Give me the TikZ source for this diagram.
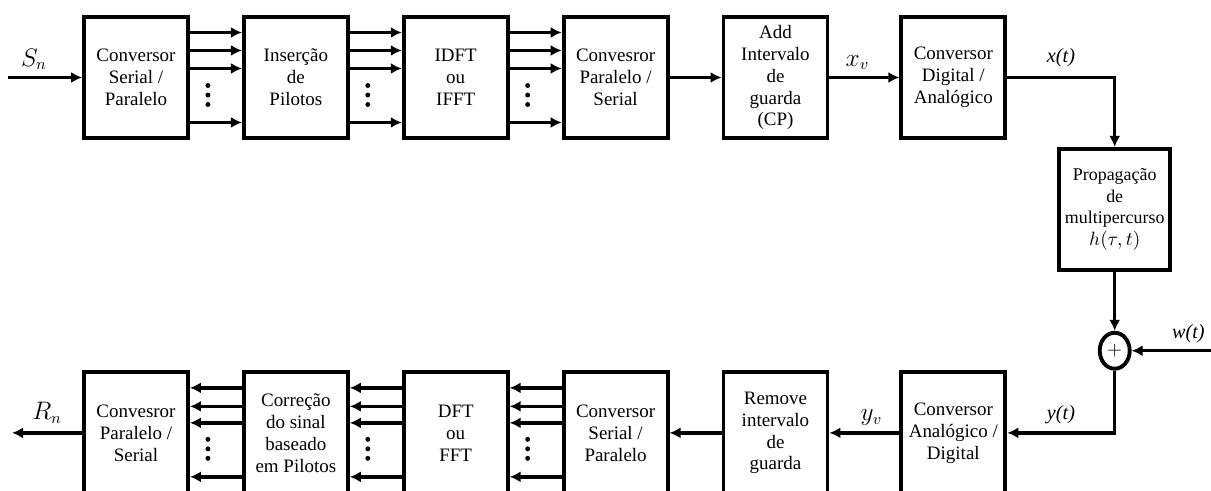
\documentclass[tikz,border=0pt]{standalone}
\usepackage{fontspec}
\setmainfont{Liberation Serif}
\usetikzlibrary{positioning, arrows.meta, shapes.geometric}

\begin{document}
\begin{tikzpicture}[
		node distance=1.04cm and 1.04cm,
		box/.style={draw, rectangle, line width=2.2pt, minimum width=2.08cm, minimum height=2.42cm, align=center, inner sep=1pt, font=\fontsize{10.8}{12.5}\selectfont},
		arrow/.style={-{Latex[length=2.2mm, width=2.2mm]}, line width=2pt},
		lbl/.style={font=\fontsize{11.5}{13}\selectfont},
		mlbl/.style={font=\fontsize{13.5}{15}\selectfont}
		]
		\useasboundingbox (0,0) rectangle (24.22,9.82);
		
		% Nodes
		\node[box] (sp) at (2.72,8.27) {Conversor \\ Serial / \\ Paralelo};
		\node[box, right=of sp] (pil) {Inserção \\ de \\ Pilotos};
		\node[box, right=of pil] (ifft) {IDFT \\ ou \\ IFFT};
		\node[box, right=of ifft] (ps) {Convesror \\ Paralelo / \\ Serial};
		\node[box, right=of ps] (cp) {Add \\ Intervalo \\ de \\ guarda \\ (CP)};
		\node[box, right=1.4cm of cp] (dac) {Conversor \\ Digital / \\ Analógico};
		
		\node[box, minimum width=2.22cm, font=\fontsize{10.2}{12.5}\selectfont, below right=0.14cm and 1cm of dac.south east] (chan) {Propagação \\ de \\ multipercurso \\ {\fontsize{11}{12.5}\selectfont$h(\tau,t)$}};
		\node[draw, ellipse, line width=2.2pt, minimum width=0.6cm, minimum height=0.72cm, inner sep=0pt, font=\fontsize{10.5}{12}\selectfont, below=1.18cm of chan] (sum) {$+$};
		\coordinate[right=1.62cm of sum] (win);
		
		\node[box, below=4.61cm of dac] (adc) {Conversor \\ Analógico / \\ Digital};
		\node[box, left=1.4cm of adc] (rem) {Remove \\ intervalo \\ de \\ guarda};
		\node[box, left=of rem] (sp2) {Conversor \\ Serial / \\ Paralelo};
		\node[box, left=of sp2] (fft) {DFT \\ ou \\ FFT};
		\node[box, left=of fft] (cor) {Correção \\ do sinal \\ baseado \\ em Pilotos};
		\node[box, left=of cor] (ps2) {Convesror \\ Paralelo / \\ Serial};
		
		\coordinate[left=1.48cm of sp] (sin);
		\coordinate[left=1.4cm of ps2] (rout);
		
		% Arrows
		\draw[arrow] (sin) -- node[mlbl, above, pos=0.35] {$S_n$} (sp);
		
		\foreach \a/\b in {sp/pil, pil/ifft, ifft/ps} {
			\foreach \dy in {0.9, 0.54, 0.18, -0.9}
				\draw[arrow] ([yshift=\dy cm]\a.east) -- ([yshift=\dy cm]\b.west);
			\foreach \k in {0,1,2}
				\fill ([xshift=0.36cm, yshift={-0.16cm-\k*0.19cm}]\a.east) circle (1.4pt);
		}
		
		\draw[arrow] (ps) -- (cp);
		\draw[arrow] (cp) -- node[mlbl, above, pos=0.4] {$x_v$} (dac);
		\draw[arrow] (dac) -| node[lbl, above, pos=0.25, yshift=2pt] {\textit{x(t)}} (chan);
		\draw[arrow] (chan) -- (sum);
		\draw[arrow] (win) -- node[lbl, above, pos=0.3] {\textit{w(t)}} (sum);
		\draw[arrow] (sum) |- node[lbl, above, pos=0.75, yshift=1pt] {\textit{y(t)}} (adc);
		\draw[arrow] (adc) -- node[mlbl, above, pos=0.4] {$y_v$} (rem);
		\draw[arrow] (rem) -- (sp2);
		
		\foreach \a/\b in {sp2/fft, fft/cor, cor/ps2} {
			\foreach \dy in {0.9, 0.53, 0.2, -0.88}
				\draw[arrow] ([yshift=\dy cm]\a.west) -- ([yshift=\dy cm]\b.east);
			\foreach \k in {0,1,2}
				\fill ([xshift=0.36cm, yshift={-0.13cm-\k*0.19cm}]\b.east) circle (1.4pt);
		}
		
		\draw[arrow] (ps2) -- node[mlbl, above, yshift=1pt] {$R_n$} (rout);
		
	\end{tikzpicture}
\end{document}
